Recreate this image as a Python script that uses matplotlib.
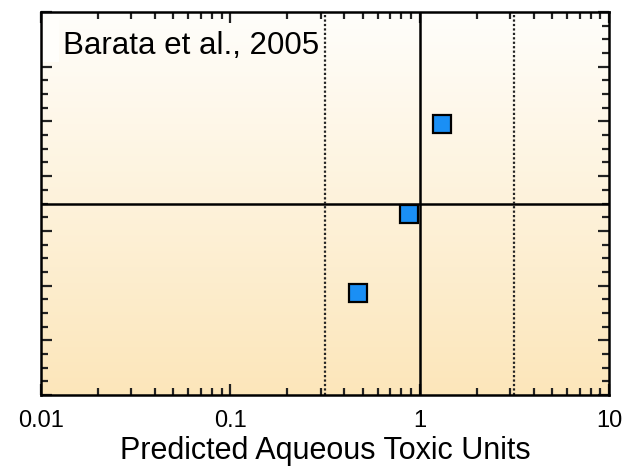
import numpy as np
import matplotlib
matplotlib.use('Agg')
import matplotlib.pyplot as plt
from matplotlib.ticker import MultipleLocator, LogLocator, FixedFormatter, FixedLocator, NullFormatter
from matplotlib.colors import LinearSegmentedColormap
from matplotlib.patches import Rectangle

plt.rcParams['font.family'] = ['Liberation Sans', 'DejaVu Sans']

# data (y axis has no labels, unit = one major tick)
toxic_units = [1.32, 0.875, 0.47]
y_values = [4.95, 3.31, 1.87]
x_ticks = [0.01, 0.1, 1, 10]
x_tick_labels = ['0.01', '0.1', '1', '10']
y_line = 3.5
x_solid = 1.0
x_dotted = [10 ** -0.5, 10 ** 0.5]

fig = plt.figure(figsize=(6.24, 4.68), dpi=100)
ax = fig.add_axes([41 / 624, 73 / 468, 568 / 624, 383 / 468])

# background gradient, white at top to pale orange at bottom
cmap = LinearSegmentedColormap.from_list('bg', ['#fce6ba', '#fffefb'])
grad = np.linspace(0, 1, 256).reshape(-1, 1)
ax.imshow(grad, aspect='auto', cmap=cmap, origin='lower',
          extent=[0, 1, 0, 1], transform=ax.transAxes, zorder=0)

ax.set_xscale('log')
ax.set_xlim(0.01, 10)
ax.set_ylim(0, 7)

ax.axhline(y_line, color='black', lw=1.8, zorder=2)
ax.axvline(x_solid, color='black', lw=1.8, zorder=2)
for xd in x_dotted:
    ax.axvline(xd, color='#222222', lw=1.6, ls=(0, (1, 1)), zorder=2)

ax.plot(toxic_units, y_values, 's', markersize=13, markerfacecolor='#1a8ff5',
        markeredgecolor='black', markeredgewidth=1.6, lw=0, zorder=3)

# the label box hides the left minor ticks behind it
ax.add_patch(Rectangle((0.002, 0.87), 0.03, 0.11, transform=ax.transAxes,
                       facecolor='#fffefb', edgecolor='none', zorder=4))
ax.text(0.038, 0.912, 'Barata et al., 2005', transform=ax.transAxes,
        fontsize=22.5, va='center', ha='left', zorder=4)

ax.xaxis.set_major_locator(FixedLocator(x_ticks))
ax.xaxis.set_major_formatter(FixedFormatter(x_tick_labels))
ax.xaxis.set_minor_locator(LogLocator(base=10, subs=np.arange(2, 10)))
ax.xaxis.set_minor_formatter(NullFormatter())
ax.yaxis.set_major_locator(MultipleLocator(1))
ax.yaxis.set_minor_locator(MultipleLocator(0.25))

ax.tick_params(which='both', direction='in', top=True, right=True, width=1.6, color='#222222')
ax.tick_params(which='major', length=8, labelsize=17, pad=11)
ax.tick_params(which='minor', length=5)
ax.tick_params(axis='y', labelleft=False)

for s in ax.spines.values():
    s.set_linewidth(1.8)
    s.set_zorder(5)

ax.set_xlabel('Predicted Aqueous Toxic Units', fontsize=22, labelpad=3)

fig.savefig('out.png', dpi=100)
